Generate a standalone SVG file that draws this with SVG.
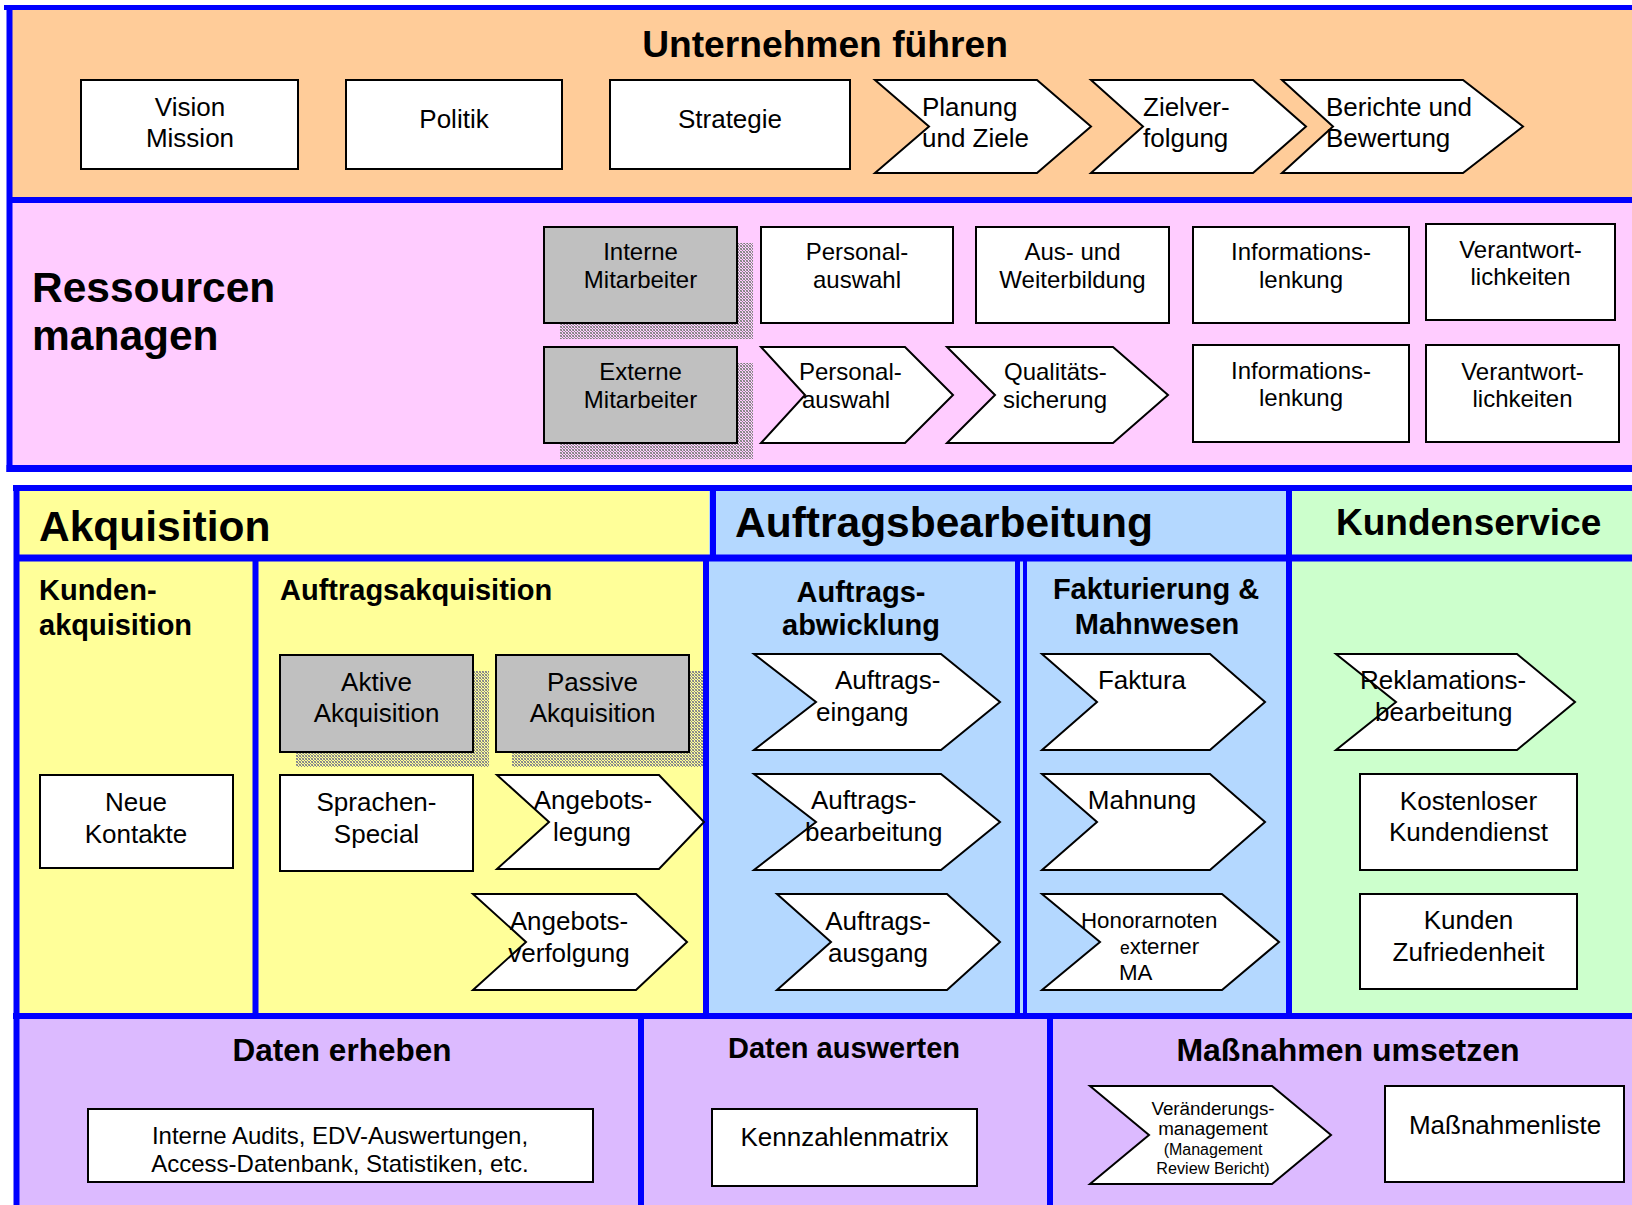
<svg xmlns="http://www.w3.org/2000/svg" width="1632" height="1205" viewBox="0 0 1632 1205">
<defs>
<style>
text{font-family:"Liberation Sans",Arial,Helvetica,sans-serif;fill:#000}
.b{font-weight:bold}
.m{text-anchor:middle}
.f26{font-size:26px}
.f24{font-size:24px}
.f29{font-size:29px;font-weight:bold}
.box{fill:#fff;stroke:#000;stroke-width:2}
.gray{fill:#c0c0c0;stroke:#000;stroke-width:2}
.shadow{fill:url(#dith)}
.bl{stroke:#0000ff;fill:none}
</style>
<pattern id="dith" width="3" height="3" patternUnits="userSpaceOnUse">
<rect x="0" y="0" width="1" height="1" fill="#7a7a7a"/>
<rect x="1" y="1" width="1" height="1" fill="#8c8c8c"/>
<rect x="2" y="2" width="1" height="1" fill="#808080"/>
<rect x="2" y="0" width="1" height="1" fill="#a0a0a0"/>
<rect x="0" y="2" width="1" height="1" fill="#9a9a9a"/>
</pattern>
</defs>

<g id="backgrounds">
<rect x="9" y="10" width="1623" height="188" fill="#ffcc99"/>
<rect x="9" y="200" width="1623" height="268" fill="#ffccff"/>
<rect x="16" y="488" width="694" height="528" fill="#ffff99"/>
<rect x="709" y="488" width="580" height="528" fill="#b4d8ff"/>
<rect x="1289" y="488" width="343" height="528" fill="#ccffcc"/>
<rect x="16" y="1016" width="1616" height="189" fill="#dcbaff"/>
</g>

<g id="frame" class="bl">
<line x1="4" y1="7.5" x2="1632" y2="7.5" stroke-width="5"/>
<line x1="9.5" y1="5" x2="9.5" y2="472" stroke-width="6"/>
<line x1="9" y1="200" x2="1632" y2="200" stroke-width="6"/>
<line x1="6.5" y1="468.5" x2="1632" y2="468.5" stroke-width="7"/>
<line x1="13" y1="488" x2="1632" y2="488" stroke-width="6"/>
<line x1="16.5" y1="485" x2="16.5" y2="1205" stroke-width="6"/>
<line x1="16" y1="558" x2="1632" y2="558" stroke-width="7"/>
<line x1="713" y1="488" x2="713" y2="558" stroke-width="6"/>
<line x1="706" y1="558" x2="706" y2="1016" stroke-width="6"/>
<line x1="255.5" y1="558" x2="255.5" y2="1016" stroke-width="6"/>
<line x1="1017.5" y1="558" x2="1017.5" y2="1016" stroke-width="5"/>
<line x1="1025" y1="556" x2="1025" y2="1016" stroke-width="4"/>
<line x1="1289" y1="488" x2="1289" y2="1016" stroke-width="6"/>
<line x1="13" y1="1016" x2="1632" y2="1016" stroke-width="6"/>
<line x1="641" y1="1016" x2="641" y2="1205" stroke-width="6"/>
<line x1="1050" y1="1016" x2="1050" y2="1205" stroke-width="6"/>
</g>

<g id="connectors"></g>

<g id="titles">
<text class="b m" x="825" y="57" font-size="37.2">Unternehmen führen</text>
<text class="b" x="32" y="302" font-size="42.5">Ressourcen</text>
<text class="b" x="32" y="350" font-size="42.5">managen</text>
<text class="b" x="39" y="541" font-size="42.5">Akquisition</text>
<text class="b" x="735" y="537" font-size="42.5">Auftragsbearbeitung</text>
<text class="b" x="1336" y="535" font-size="37">Kundenservice</text>
<text class="f29" x="39" y="600">Kunden-</text>
<text class="f29" x="39" y="635">akquisition</text>
<text class="f29" x="280" y="600">Auftragsakquisition</text>
<text class="f29 m" x="861" y="602">Auftrags-</text>
<text class="f29 m" x="861" y="635">abwicklung</text>
<text class="f29 m" x="1156" y="599">Fakturierung &amp;</text>
<text class="f29 m" x="1157" y="634">Mahnwesen</text>
<text class="b m" x="342" y="1061" font-size="31.5">Daten erheben</text>
<text class="b m" x="844" y="1058" font-size="29">Daten auswerten</text>
<text class="b m" x="1348" y="1061" font-size="32">Maßnahmen umsetzen</text>
</g>

<g id="vision">
<rect class="box" x="81" y="80" width="217" height="89"/>
<text class="f26 m" x="190" y="116">Vision</text>
<text class="f26 m" x="190" y="147">Mission</text>
</g>
<g id="politik">
<rect class="box" x="346" y="80" width="216" height="89"/>
<text class="f26 m" x="454" y="128">Politik</text>
</g>
<g id="strategie">
<rect class="box" x="610" y="80" width="240" height="89"/>
<text class="f26 m" x="730" y="128">Strategie</text>
</g>
<g id="planung">
<polygon class="box" points="875,80 1037,80 1091,126.5 1037,173 875,173 929,126.5"/>
<text class="f26" x="922" y="116">Planung</text>
<text class="f26" x="922" y="147">und Ziele</text>
</g>
<g id="zielverfolgung">
<polygon class="box" points="1091,80 1253,80 1306,126.5 1253,173 1091,173 1143,126.5"/>
<text class="f26" x="1143" y="116">Zielver-</text>
<text class="f26" x="1143" y="147">folgung</text>
</g>
<g id="berichte">
<polygon class="box" points="1282,80 1463,80 1523,126.5 1463,173 1282,173 1333,126.5"/>
<text class="f26" x="1326" y="116">Berichte und</text>
<text class="f26" x="1326" y="147">Bewertung</text>
</g>

<g id="interne-mitarbeiter">
<rect class="shadow" x="560" y="243" width="193" height="96"/>
<rect class="gray" x="544" y="227" width="193" height="96"/>
<text class="f24 m" x="640.5" y="260">Interne</text>
<text class="f24 m" x="640.5" y="288">Mitarbeiter</text>
</g>
<g id="externe-mitarbeiter">
<rect class="shadow" x="560" y="363" width="193" height="96"/>
<rect class="gray" x="544" y="347" width="193" height="96"/>
<text class="f24 m" x="640.5" y="380">Externe</text>
<text class="f24 m" x="640.5" y="408">Mitarbeiter</text>
</g>
<g id="personalauswahl-1">
<rect class="box" x="761" y="227" width="192" height="96"/>
<text class="f24 m" x="857" y="260">Personal-</text>
<text class="f24 m" x="857" y="288">auswahl</text>
</g>
<g id="weiterbildung">
<rect class="box" x="976" y="227" width="193" height="96"/>
<text class="f24 m" x="1072.5" y="260">Aus- und</text>
<text class="f24 m" x="1072.5" y="288">Weiterbildung</text>
</g>
<g id="informationslenkung-1">
<rect class="box" x="1193" y="227" width="216" height="96"/>
<text class="f24 m" x="1301" y="260">Informations-</text>
<text class="f24 m" x="1301" y="288">lenkung</text>
</g>
<g id="verantwortlichkeiten-1">
<rect class="box" x="1426" y="224" width="189" height="96"/>
<text class="f24 m" x="1520.5" y="258">Verantwort-</text>
<text class="f24 m" x="1520.5" y="285">lichkeiten</text>
</g>
<g id="personalauswahl-2">
<polygon class="box" points="761,347 905,347 953,395 905,443 761,443 805,395"/>
<text class="f24" x="799" y="380">Personal-</text>
<text class="f24" x="802" y="408">auswahl</text>
</g>
<g id="qualitaetssicherung">
<polygon class="box" points="947,347 1113,347 1168,395 1113,443 947,443 995,395"/>
<text class="f24" x="1004" y="380">Qualitäts-</text>
<text class="f24" x="1003" y="408">sicherung</text>
</g>
<g id="informationslenkung-2">
<rect class="box" x="1193" y="345" width="216" height="97"/>
<text class="f24 m" x="1301" y="379">Informations-</text>
<text class="f24 m" x="1301" y="406">lenkung</text>
</g>
<g id="verantwortlichkeiten-2">
<rect class="box" x="1426" y="345" width="193" height="97"/>
<text class="f24 m" x="1522.5" y="380">Verantwort-</text>
<text class="f24 m" x="1522.5" y="407">lichkeiten</text>
</g>

<g id="neue-kontakte">
<rect class="box" x="40" y="775" width="193" height="93"/>
<text class="f26 m" x="136" y="811">Neue</text>
<text class="f26 m" x="136" y="842.5">Kontakte</text>
</g>
<g id="aktive-akquisition">
<rect class="shadow" x="296" y="671" width="193" height="96"/>
<rect class="gray" x="280" y="655" width="193" height="97"/>
<text class="f26 m" x="376.5" y="691">Aktive</text>
<text class="f26 m" x="376.5" y="722">Akquisition</text>
</g>
<g id="passive-akquisition">
<rect class="shadow" x="512" y="671" width="191" height="96"/>
<rect class="gray" x="496" y="655" width="193" height="97"/>
<text class="f26 m" x="592.5" y="691">Passive</text>
<text class="f26 m" x="592.5" y="722">Akquisition</text>
</g>
<g id="sprachen-special">
<rect class="box" x="280" y="775" width="193" height="96"/>
<text class="f26 m" x="376.5" y="811">Sprachen-</text>
<text class="f26 m" x="376.5" y="842.5">Special</text>
</g>
<g id="angebotslegung">
<polygon class="box" points="497,775 659,775 704,822 659,869 497,869 549,822"/>
<text class="f26 m" x="593" y="809">Angebots-</text>
<text class="f26 m" x="592" y="840.5">legung</text>
</g>
<g id="angebotsverfolgung">
<polygon class="box" points="473,894 636,894 687,942 636,990 473,990 526,942"/>
<text class="f26 m" x="569" y="930">Angebots-</text>
<text class="f26 m" x="569" y="961.5">verfolgung</text>
</g>

<g id="auftragseingang">
<polygon class="box" points="754,654 941,654 1000,702 941,750 754,750 816,702"/>
<text class="f26" x="835" y="689">Auftrags-</text>
<text class="f26" x="816" y="721">eingang</text>
</g>
<g id="auftragsbearbeitung">
<polygon class="box" points="754,774 941,774 1000,822 941,870 754,870 816,822"/>
<text class="f26" x="811" y="809">Auftrags-</text>
<text class="f26" x="805" y="840.5">bearbeitung</text>
</g>
<g id="auftragsausgang">
<polygon class="box" points="777,894 947,894 1000,942 947,990 777,990 831,942"/>
<text class="f26 m" x="878" y="930">Auftrags-</text>
<text class="f26 m" x="878" y="961.5">ausgang</text>
</g>
<g id="faktura">
<polygon class="box" points="1042,654 1210,654 1265,702 1210,750 1042,750 1097,702"/>
<text class="f26 m" x="1142" y="689">Faktura</text>
</g>
<g id="mahnung">
<polygon class="box" points="1042,774 1210,774 1265,822 1210,870 1042,870 1097,822"/>
<text class="f26 m" x="1142" y="809">Mahnung</text>
</g>
<g id="honorarnoten">
<polygon class="box" points="1042,894 1222,894 1279,942 1222,990 1042,990 1100,942"/>
<text x="1081" y="928" font-size="22.3">Honorarnoten</text>
<text x="1120" y="954" font-size="22.3"><tspan font-size="17.5">e</tspan>xterner</text>
<text x="1119" y="980" font-size="22.3">MA</text>
</g>

<g id="reklamationsbearbeitung">
<polygon class="box" points="1336,654 1517,654 1575,702 1517,750 1336,750 1396,702"/>
<text class="f26" x="1360" y="689">Reklamations-</text>
<text class="f26" x="1375" y="721">bearbeitung</text>
</g>
<g id="kostenloser-kundendienst">
<rect class="box" x="1360" y="774" width="217" height="96"/>
<text class="f26 m" x="1468.5" y="810">Kostenloser</text>
<text class="f26 m" x="1468.5" y="840.5">Kundendienst</text>
</g>
<g id="kundenzufriedenheit">
<rect class="box" x="1360" y="894" width="217" height="95"/>
<text class="f26 m" x="1468.5" y="929">Kunden</text>
<text class="f26 m" x="1468.5" y="961">Zufriedenheit</text>
</g>

<g id="interne-audits">
<rect class="box" x="88" y="1109" width="505" height="73"/>
<text class="f24 m" x="340" y="1144">Interne Audits, EDV-Auswertungen,</text>
<text class="f24 m" x="340" y="1172">Access-Datenbank, Statistiken, etc.</text>
</g>
<g id="kennzahlenmatrix">
<rect class="box" x="712" y="1109" width="265" height="77"/>
<text class="f26 m" x="844.5" y="1146">Kennzahlenmatrix</text>
</g>
<g id="veraenderungsmanagement">
<polygon class="box" points="1090,1086 1272,1086 1331,1135 1272,1184 1090,1184 1149,1135"/>
<text class="m" x="1213" y="1115" font-size="18.8">Veränderungs-</text>
<text class="m" x="1213" y="1135" font-size="18.8">management</text>
<text class="m" x="1213" y="1155" font-size="16">(Management</text>
<text class="m" x="1213" y="1174" font-size="16.2">Review Bericht)</text>
</g>
<g id="massnahmenliste">
<rect class="box" x="1385" y="1086" width="239" height="96"/>
<text class="f26 m" x="1505" y="1134">Maßnahmenliste</text>
</g>
</svg>
